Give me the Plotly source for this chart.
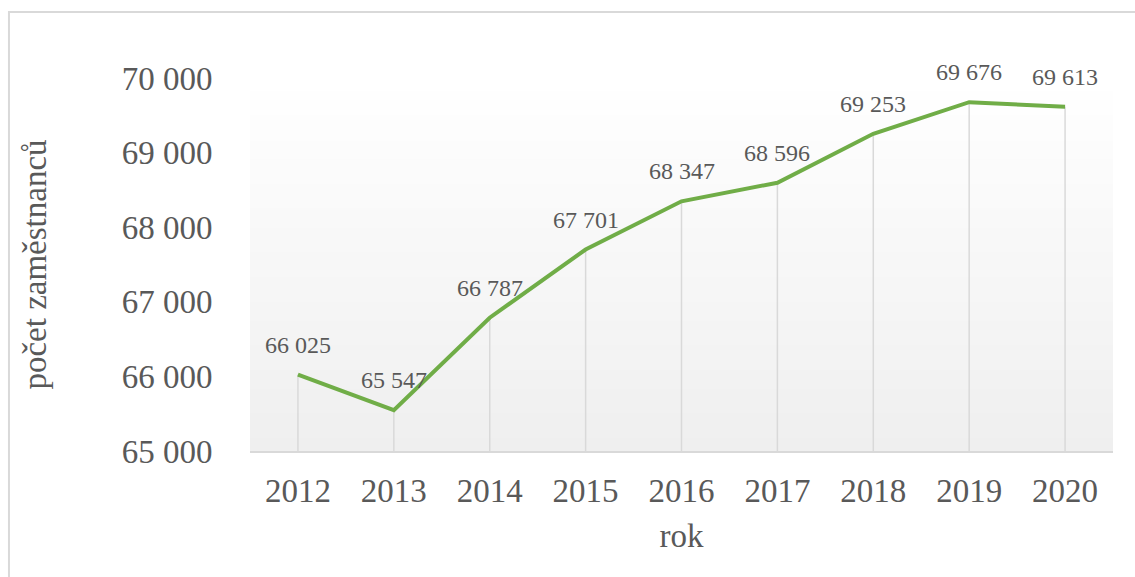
import plotly.graph_objects as go

years = ["2012", "2013", "2014", "2015", "2016", "2017", "2018", "2019", "2020"]
employees = [66025, 65547, 66787, 67701, 68347, 68596, 69253, 69676, 69613]
y_min, y_max = 65000, 70000
y_ticks = [65000, 66000, 67000, 68000, 69000, 70000]

FONT = "Liberation Serif, Times New Roman, serif"
TXT = "#595959"

fig = go.Figure()

# drop lines from points to the axis
fig.add_trace(go.Scatter(
    x=years, y=employees, mode="markers",
    marker=dict(size=0.1, color="rgba(0,0,0,0)"),
    error_y=dict(type="data", symmetric=False,
                 array=[0] * len(employees),
                 arrayminus=[v - y_min for v in employees],
                 color="#D9D9D9", thickness=1.5, width=0),
    hoverinfo="skip", showlegend=False))

fig.add_trace(go.Scatter(
    x=years, y=employees, mode="lines",
    line=dict(color="#70AD47", width=4),
    showlegend=False))

for i, v in enumerate(employees):
    fig.add_annotation(x=i, y=v, text=f"{v:,}".replace(",", " "),
                       showarrow=False, yanchor="middle", yshift=30,
                       font=dict(family=FONT, size=24, color=TXT))

# gradient plot background (white at top to light gray at bottom)
n = 60
shapes = []
for i in range(n):
    t = i / (n - 1)
    c = int(round(255 - (255 - 239) * (1 - t)))
    shapes.append(dict(type="rect", xref="paper", yref="paper",
                       x0=0, x1=1, y0=i / n, y1=(i + 1) / n + 0.002,
                       fillcolor=f"rgb({c},{c},{c})", line=dict(width=0),
                       layer="below"))
# outer chart border (top and left visible)
shapes.append(dict(type="rect", xref="paper", yref="paper",
                   x0=-0.2793, x1=1.2, y0=-0.6, y1=1.177,
                   line=dict(color="#D9D9D9", width=2), layer="above"))

fig.update_layout(
    width=1135, height=577,
    margin=dict(l=250, r=22, t=78, b=126),
    paper_bgcolor="white", plot_bgcolor="rgba(0,0,0,0)",
    separators=", ",
    font=dict(family=FONT, color=TXT, size=33),
    shapes=shapes,
    xaxis=dict(
        type="category", categoryorder="array", categoryarray=years,
        range=[-0.5, len(years) - 0.5],
        showgrid=False, zeroline=False,
        showline=True, linecolor="#D9D9D9", linewidth=2,
        ticks="outside", ticklen=9, tickcolor="rgba(0,0,0,0)",
        tickfont=dict(family=FONT, size=33, color=TXT),
        title=dict(text="rok", font=dict(family=FONT, size=33, color=TXT), standoff=16),
    ),
    yaxis=dict(
        range=[y_min, y_max], tickvals=y_ticks, tickformat=",d",
        showgrid=False, zeroline=False, showline=False,
        ticks="outside", ticklen=30, tickcolor="rgba(0,0,0,0)",
        tickfont=dict(family=FONT, size=33, color=TXT),
        title=dict(text="počet zaměstnanců", font=dict(family=FONT, size=33, color=TXT), standoff=65),
    ),
)

fig.write_html("out.html", config={"displayModeBar": False},
               post_script="document.body.style.margin='0px';")
